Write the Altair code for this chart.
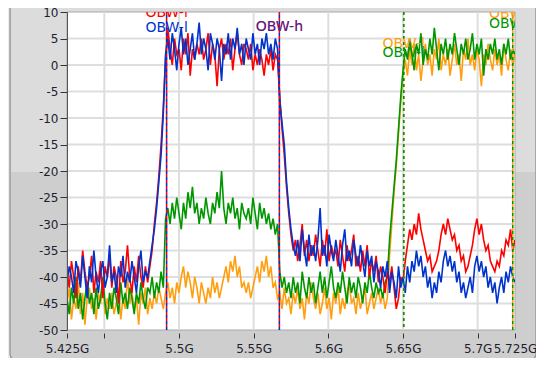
import altair as alt
import pandas as pd

# ---------------- data ----------------
freq_start = 5.425      # GHz, first sample
freq_step = 0.0015      # GHz between samples

blue_db = [
    -41, -38, -40, -43, -37, -39, -42, -36, -40, -44,
    -38, -41, -35, -40, -43, -39, -37, -42, -40, -34,
    -41, -39, -43, -38, -40, -36, -42, -39, -41, -37,
    -40, -43, -38, -35, -41, -39, -40, -37, -34, -31,
    -27, -22, -17, -9, 2, 5, 1, 6, 3, -1,
    4, 7, 2, 5, 0, 3, 6, 1, 4, 8,
    2, 5, 3, -1, 6, 4, 1, 5, 3, -3,
    4, 2, 6, 1, 5, 3, 7, 2, 4, 0,
    5, 3, 1, 6, 2, 4, 0, 5, 3, 6,
    2, 4, 1, 5, 3, -7, -11, -15, -22, -27,
    -31, -34, -36, -33, -37, -31, -35, -38, -32, -36,
    -34, -37, -33, -27, -36, -34, -38, -32, -35, -37,
    -33, -36, -39, -34, -31, -37, -35, -38, -33, -36,
    -38, -34, -37, -40, -35, -38, -36, -41, -37, -39,
    -42, -38, -40, -37, -43, -39, -41, -44, -38, -42,
    -40, -43, -38, -41, -37, -39, -35, -38, -36, -40,
    -38, -42, -40, -44, -41, -43, -39, -41, -37, -35,
    -38, -36, -39, -37, -41, -39, -43, -41, -44, -42,
    -40, -43, -38, -36, -39, -37, -40, -38, -42, -40,
    -43, -41, -45, -42, -40, -43, -39, -41, -38, -40,
    -41,
]

red_db = [
    -39, -42, -37, -40, -44, -38, -41, -35, -39, -42,
    -40, -36, -43, -39, -41, -37, -44, -38, -40, -36,
    -42, -38, -40, -45, -37, -41, -39, -34, -40, -43,
    -38, -41, -36, -40, -42, -38, -41, -38, -35, -30,
    -26, -21, -15, -8, 1, 7, 3, 0, 5, 2,
    3, -1, 5, 2, 6, -2, 3, 1, 4, 2,
    5, 1, 3, 6, 0, 4, 2, -4, 3, 5,
    1, 4, 2, 5, -1, 3, 6, 2, 0, 4,
    3, 1, 4, -1, 2, 0, 3, 1, -2, 2,
    0, 3, -1, 2, 1, -6, -12, -17, -23, -28,
    -32, -35, -33, -37, -34, -30, -36, -33, -37, -34,
    -36, -32, -35, -38, -33, -36, -31, -37, -34, -36,
    -35, -38, -33, -36, -39, -34, -37, -35, -32, -38,
    -36, -39, -35, -38, -34, -40, -37, -39, -36, -41,
    -38, -40, -43, -39, -41, -38, -42, -46, -44, -40,
    -41, -37, -34, -31, -33, -30, -32, -28, -31, -33,
    -35, -37, -36, -39, -38, -37, -35, -32, -30, -32,
    -29, -31, -33, -32, -35, -34, -37, -36, -39, -38,
    -36, -34, -31, -29, -32, -30, -33, -35, -34, -37,
    -38, -39, -37, -38, -35, -36, -33, -34, -31, -35,
    -33,
]

green_db = [
    -44, -47, -42, -45, -40, -46, -43, -48, -44, -41,
    -45, -43, -47, -42, -46, -44, -40, -45, -48, -43,
    -46, -42, -44, -47, -41, -45, -43, -46, -42, -44,
    -47, -43, -45, -41, -44, -46, -42, -43, -40, -44,
    -41, -43, -39, -42, -29, -27, -30, -26, -29, -25,
    -28, -31, -26, -29, -24, -27, -23, -28, -26, -30,
    -27, -29, -25, -28, -30, -26, -28, -24, -27, -20,
    -27, -30, -26, -28, -25, -29, -27, -31, -26, -28,
    -29, -27, -30, -25, -28, -31, -26, -29, -27, -30,
    -28, -31, -29, -32, -30, -39, -42, -40, -43, -41,
    -44, -40, -43, -41, -45, -39, -42, -44, -40, -43,
    -41, -45, -42, -39, -43, -40, -44, -41, -38, -42,
    -44, -41, -43, -39, -42, -45, -40, -43, -41, -44,
    -40, -42, -45, -41, -43, -39, -42, -44, -41, -43,
    -42, -44, -41, -40, -33, -28, -23, -18, -12, -6,
    -1, 3, 1, 5, 2, -1, 4, 2, 6, 0,
    3, 1, 5, 2, 7, 3, -1, 4, 2, 5,
    1, 4, 2, 6, 3, 0, 4, 2, 5, 1,
    3, 6, 1, 4, 2, 5, -2, 3, 1, 4,
    2, 5, 1, 3, 0, 4, 2, 5, 1, 3,
    2,
]

orange_db = [
    -45, -42, -48, -44, -46, -41, -47, -43, -49, -44,
    -42, -46, -44, -48, -43, -45, -41, -47, -44, -46,
    -43, -47, -45, -42, -48, -44, -46, -40, -45, -43,
    -46, -44, -49, -43, -45, -42, -47, -44, -46, -43,
    -45, -42, -44, -46, -43, -41, -44, -42, -45, -41,
    -43, -40, -38, -42, -39, -41, -44, -40, -42, -45,
    -41, -43, -45, -42, -44, -40, -43, -41, -44, -42,
    -40, -38, -41, -37, -39, -36, -40, -38, -42, -41,
    -43, -41, -44, -42, -40, -38, -41, -37, -39, -36,
    -40, -38, -42, -41, -44, -43, -46, -42, -45, -44,
    -47, -43, -45, -42, -46, -44, -48, -43, -45, -41,
    -44, -46, -43, -47, -45, -42, -46, -44, -48, -43,
    -45, -42, -47, -44, -46, -43, -41, -45, -44, -47,
    -43, -46, -44, -42, -47, -45, -43, -46, -44, -42,
    -45, -43, -46, -44, -36, -30, -24, -19, -13, -7,
    -2, 1, -2, 3, 0, 4, -1, 2, -3, 1,
    4, 0, 2, -2, 3, 1, 5, -1, 2, 0,
    3, -2, 1, 4, 0, 2, -3, 3, 1, 5,
    0, 2, -1, 3, 1, -4, 2, 0, 4, 1,
    -1, 3, 0, 2, -2, 4, 1, -1, 3, 0,
    2,
]

series_names = ["orange", "green", "red", "blue"]
series_colors = ["#ff9f0f", "#009600", "#ff0000", "#0033cc"]

# OBW markers (dashed rules)
marker_a_freq = [5.4917, 5.5672, 5.6505, 5.7235, 5.6505]
marker_a_series = ["red", "red", "orange", "orange", "green"]
marker_b_freq = [5.4917, 5.5672, 5.7235]
marker_b_series = ["blue", "blue", "green"]

# OBW labels
label_text = ["OBW-l", "OBW-l", "OBW-h", "OBW-h", "OBW-l", "OBW-l", "OBW-h", "OBW-h"]
label_freq = [5.4917, 5.4917, 5.5672, 5.5672, 5.6505, 5.6505, 5.7235, 5.7235]
label_level = [9.8, 7.0, 7.2, 7.2, 4.0, 2.3, 9.7, 7.8]
label_series = ["red", "blue", "red", "blue", "orange", "green", "orange", "green"]
label_alpha = [1, 1, 1, 0.7, 1, 1, 1, 1]

x_ticks = [5.425, 5.45, 5.5, 5.55, 5.6, 5.65, 5.7, 5.725]
x_grid = [5.45, 5.5, 5.55, 5.6, 5.65, 5.7]
y_ticks = [-50, -45, -40, -35, -30, -25, -20, -15, -10, -5, 0, 5, 10]
y_grid = [-45, -40, -35, -30, -25, -20, -15, -10, -5, 0, 5]

# ---------------- chart ----------------
for s in (blue_db, red_db, green_db, orange_db):
    assert len(s) == 201, len(s)

W, H = 448, 318
FONT = "DejaVu Sans"

xs = alt.Scale(domain=[5.425, 5.725], nice=False, zero=False)
ys = alt.Scale(domain=[-50, 10], nice=False, zero=False)
cs = alt.Scale(domain=series_names, range=series_colors)

x_axis = alt.Axis(
    values=x_ticks, grid=False, domain=False, tickSize=5, tickColor="#333333",
    offset=3, labelExpr="datum.value == 5.45 ? '' : format(datum.value, '.3~f') + 'G'",
    labelFont=FONT, labelFontSize=12, labelColor="#1e1e2e", labelPadding=5,
    labelOverlap=False, labelFlush=False, title=None, zindex=1,
)
y_axis = alt.Axis(
    values=y_ticks, grid=False, domain=True, domainColor="#555555", tickSize=7,
    tickColor="#333333", labelExpr="'' + datum.value", labelFont=FONT,
    labelFontSize=12, labelColor="#1e1e2e", labelPadding=2, title=None, zindex=1,
)

one = pd.DataFrame({"k": [0]})

panel_low = alt.Chart(one).mark_rect(
    fill="#cecece", stroke="#8e8e8e", strokeWidth=1.2, cornerRadius=6
).encode(x=alt.value(-57), x2=alt.value(469), y=alt.value(-10), y2=alt.value(348))
panel_up = alt.Chart(one).mark_rect(
    fill="#dcdcdc", cornerRadiusTopLeft=5, cornerRadiusTopRight=5
).encode(x=alt.value(-56), x2=alt.value(468), y=alt.value(-9), y2=alt.value(160))
plot_bg = alt.Chart(one).mark_rect(
    fill="white", stroke="#a8a8a8", strokeWidth=1
).encode(x=alt.value(0), x2=alt.value(W), y=alt.value(0), y2=alt.value(H))

xgrid = alt.Chart(pd.DataFrame({"f": x_grid})).mark_rule(
    color="#dedede", strokeWidth=2
).encode(x=alt.X("f:Q", scale=xs, axis=x_axis))
ygrid = alt.Chart(pd.DataFrame({"v": y_grid})).mark_rule(
    color="#dedede", strokeWidth=2
).encode(y=alt.Y("v:Q", scale=ys, axis=y_axis))

freqs = [round(freq_start + freq_step * i, 4) for i in range(len(blue_db))]
values = {"blue": blue_db, "red": red_db, "green": green_db, "orange": orange_db}

traces = []
for name, col in zip(series_names, series_colors):
    df = pd.DataFrame({"f": freqs, "v": values[name]})
    traces.append(
        alt.Chart(df).mark_line(color=col, strokeWidth=1.6, clip=True).encode(
            x=alt.X("f:Q", scale=xs, axis=x_axis),
            y=alt.Y("v:Q", scale=ys, axis=y_axis),
        )
    )

mk_a = alt.Chart(pd.DataFrame({"f": marker_a_freq, "s": marker_a_series})).mark_rule(
    strokeDash=[3, 3], strokeWidth=1.6
).encode(x=alt.X("f:Q", scale=xs, axis=x_axis), color=alt.Color("s:N", scale=cs, legend=None))
mk_b = alt.Chart(pd.DataFrame({"f": marker_b_freq, "s": marker_b_series})).mark_rule(
    strokeDash=[3, 3], strokeDashOffset=3, strokeWidth=1.6
).encode(x=alt.X("f:Q", scale=xs, axis=x_axis), color=alt.Color("s:N", scale=cs, legend=None))

labels = alt.Chart(pd.DataFrame({
    "f": label_freq, "v": label_level, "t": label_text,
    "s": label_series, "o": label_alpha,
})).mark_text(font=FONT, fontSize=14, align="center", baseline="middle", clip=True).encode(
    x=alt.X("f:Q", scale=xs, axis=x_axis),
    y=alt.Y("v:Q", scale=ys, axis=y_axis),
    text="t:N",
    color=alt.Color("s:N", scale=cs, legend=None),
    opacity=alt.Opacity("o:Q", scale=None),
)

chart = alt.layer(
    panel_low, panel_up, plot_bg, xgrid, ygrid, *traces, mk_a, mk_b, labels
).properties(
    width=W, height=H,
    autosize=alt.AutoSizeParams(type="none"),
    padding={"left": 59, "top": 4, "right": 21, "bottom": 28},
    background="#ececec",
).configure_view(strokeWidth=0)

chart.save("out.html", embed_options={"renderer": "svg", "actions": False})
